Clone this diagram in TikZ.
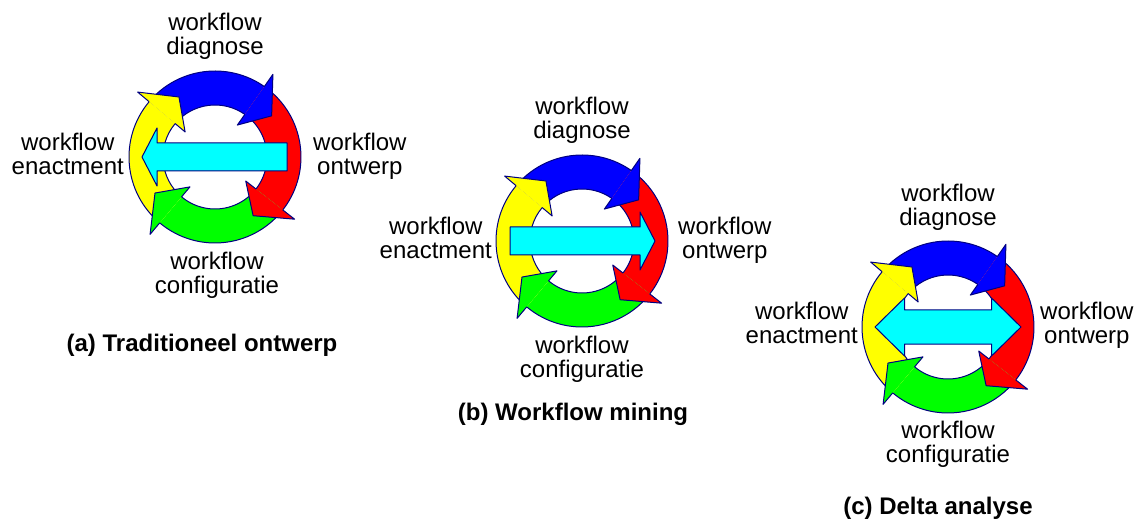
\documentclass[tikz,border=0pt]{standalone}
\usepackage{fontspec}
\setmainfont{Liberation Sans}
\usetikzlibrary{positioning}

\definecolor{wfblue}{RGB}{0,0,255}
\definecolor{wfred}{RGB}{255,0,0}
\definecolor{wfgreen}{RGB}{0,255,0}
\definecolor{wfyellow}{RGB}{255,255,0}
\definecolor{wfcyan}{RGB}{0,255,255}
\definecolor{wfedge}{RGB}{0,0,128}

% one ring of four bent arrows, centred at #1
\newcommand{\wfring}[1]{%
  \begin{scope}[shift={#1}]
    % bands first
    \foreach \col/\sa/\ba in {wfblue/140/55, wfred/55/-38, wfgreen/-38/-130, wfyellow/-130/-220}{
      \fill[\col] (\sa:\Rout) arc[start angle=\sa, end angle=\ba, radius=\Rout]
        -- (\ba:\Rin) arc[start angle=\ba, end angle=\sa, radius=\Rin] -- cycle;
      \draw[edge] (\sa:\Rout) arc[start angle=\sa, end angle=\ba, radius=\Rout];
      \draw[edge] (\sa:\Rin) arc[start angle=\sa, end angle=\ba, radius=\Rin];
    }
    % then the heads on top
    \foreach \col/\ba in {wfblue/55, wfred/-38, wfgreen/-130, wfyellow/-220}{
      \pgfmathsetmacro\tp{\ba-19}
      \fill[\col] (\ba:\Rin) -- (\ba:39) -- (\tp:70) -- (\ba:101) -- (\ba:\Rout) -- cycle;
      \draw[edge] (\ba:\Rin) -- (\ba:39) -- (\tp:70) -- (\ba:101) -- (\ba:\Rout);
    }
  \end{scope}}

\begin{document}
\begin{tikzpicture}[
  x=1pt, y=1pt,
  edge/.style   = {draw=wfedge, line width=1pt, line join=round},
  wftext/.style = {font=\fontsize{24}{24}\selectfont, align=center, inner sep=0pt},
  subcap/.style = {font=\fontsize{24}{24}\selectfont\bfseries, inner sep=0pt}
]

% ---- constants ----
\def\Rin{52}     % inner radius of the ring
\def\Rout{86}    % outer radius of the ring

\useasboundingbox (0,0) rectangle (1145,-526);

% ---- ring centres ----
\coordinate (ringA) at (215,-157);
\coordinate (ringB) at (582,-241);
\coordinate (ringC) at (948,-327);

% ---- (a) traditional design ----
\wfring{(ringA)}
\draw[edge, fill=wfcyan, shift={(ringA)}]
  (72,14) -- (-58,14) -- (-58,29) -- (-73,0) -- (-58,-29) -- (-58,-14) -- (72,-14) -- cycle;

% ---- (b) workflow mining ----
\wfring{(ringB)}
\draw[edge, fill=wfcyan, shift={(ringB)}]
  (-72,14) -- (58,14) -- (58,29) -- (73,0) -- (58,-29) -- (58,-14) -- (-72,-14) -- cycle;

% ---- (c) delta analysis ----
\draw[edge, fill=white, shift={(ringC)}] (-43.5,-63) rectangle (43.5,63);
\wfring{(ringC)}
\draw[edge, fill=wfcyan, shift={(ringC)}]
  (-43.5,17) -- (43.5,17) -- (43.5,29) -- (73,0) -- (43.5,-29) -- (43.5,-17)
  -- (-43.5,-17) -- (-43.5,-29) -- (-73,0) -- (-43.5,29) -- cycle;

% ---- labels ----
\node[wftext, anchor=north]      (diagA) at (215,-13)  {workflow\\diagnose};
\node[wftext, anchor=north east] (enacA) at (124,-133) {workflow\\enactment};
\node[wftext, anchor=north west] (ontwA) at (313,-133) {workflow\\ontwerp};
\node[wftext, anchor=north]      (confA) at (217,-252) {workflow\\configuratie};
\node[subcap, anchor=north]      (capA)  at (202,-334) {(a) Traditioneel ontwerp};

\node[wftext, anchor=north]      (diagB) at (582,-97)  {workflow\\diagnose};
\node[wftext, anchor=north east] (enacB) at (492,-217) {workflow\\enactment};
\node[wftext, anchor=north west] (ontwB) at (678,-217) {workflow\\ontwerp};
\node[wftext, anchor=north]      (confB) at (582,-336) {workflow\\configuratie};
\node[subcap, anchor=north]      (capB)  at (573,-403) {(b) Workflow mining};

\node[wftext, anchor=north]      (diagC) at (948,-184) {workflow\\diagnose};
\node[wftext, anchor=north east] (enacC) at (858,-302) {workflow\\enactment};
\node[wftext, anchor=north west] (ontwC) at (1040,-302) {workflow\\ontwerp};
\node[wftext, anchor=north]      (confC) at (948,-421) {workflow\\configuratie};
\node[subcap, anchor=north]      (capC)  at (938,-497) {(c) Delta analyse};

\end{tikzpicture}
\end{document}
